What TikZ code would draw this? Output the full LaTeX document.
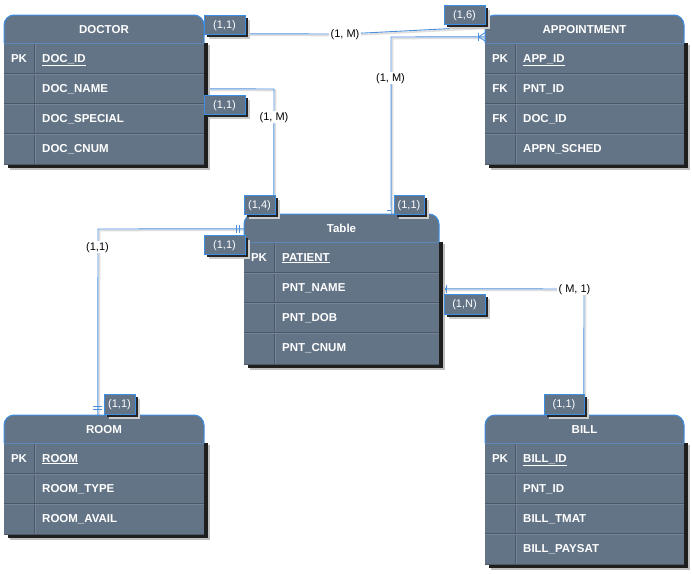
\documentclass[tikz,border=0pt]{standalone}
\usepackage{fontspec}
\setmainfont{Liberation Sans}
\usetikzlibrary{fit,calc}
\pgfdeclarelayer{background}
\pgfdeclarelayer{paper}
\pgfsetlayers{paper,background,main}
\definecolor{tfill}{HTML}{637487}
\definecolor{tdark}{HTML}{4B5867}
\definecolor{tlight}{HTML}{75849A}
\definecolor{eblue}{HTML}{3D8EE6}
\definecolor{lblue}{HTML}{4A8FDB}
\definecolor{hline}{HTML}{5C87B8}
\tikzset{
  card/.style={fill=tfill, draw=eblue, line width=1pt, text=white,
    font=\fontsize{11}{13}\selectfont, inner sep=0pt,
    text height=7.8pt, text depth=0pt},
  conn/.style={draw=lblue, line width=0.9pt},
  rel/.style={fill=white, text=black, inner sep=1.5pt, font=\fontsize{11}{13}\selectfont,
    text height=7.8pt, text depth=1pt},
  ttl/.style={text=white, font=\bfseries\fontsize{11.5}{13}\selectfont,
    text height=8.2pt, text depth=0pt, inner sep=0pt},
  fld/.style={text=white, font=\bfseries\fontsize{11.5}{13}\selectfont, anchor=west,
    inner sep=0pt, text height=8.2pt, text depth=0pt},
  tickln/.style={draw=lblue, line width=0.9pt},
}
\newcommand\ertable[7]{%
  \fill[black!25] (#2+6,#3+30) rectangle (#4+6,#5+6);
  \fill[black!88] (#2+4,#3+28) rectangle (#4+4,#5+4);
  \fill[tfill,rounded corners=10pt] (#2,#3) rectangle (#4,#3+30);
  \fill[tfill] (#2,#3+15) rectangle (#4,#5);
  \draw[eblue,line width=1pt,rounded corners=10pt] (#2,#3+28) -- (#2,#3) -- (#4,#3) -- (#4,#3+28);
  \draw[hline,line width=1pt] (#2,#3+28) -- (#4,#3+28);
  \draw[tdark,line width=1pt] (#2+30,#3+28.5) -- (#2+30,#5);
  \draw[tlight,line width=0.6pt] (#2+31,#3+29) -- (#2+31,#5);
  \node[ttl] at ({(#2+#4)/2},#3+14.5) {#6};
  \foreach \k/\f [count=\i] in {#7} {
    \pgfmathsetmacro\yy{#3+28+30*(\i-1)}
    \ifnum\i>1
      \draw[tdark,line width=1pt] (#2,\yy) -- (#4,\yy);
      \draw[tlight,line width=0.6pt] (#2,\yy+1) -- (#4,\yy+1);
    \fi
    \node[fld, anchor=center] at (#2+15,\yy+15) {\k};
    \node[fld] at (#2+38,\yy+15) {\f};
  }
  \draw[tdark,line width=1pt] (#2,#5) -- (#4,#5);
  \node[fit={(#2,#3) (#4,#5)}, inner sep=0pt] (#1) {};
}
% card: name, x1, y1, x2, y2, text
\newcommand\card[6]{%
  \fill[black!20] (#2+5,#3+5) rectangle (#4+5,#5+5);
  \fill[black!85] (#2+3,#3+3) rectangle (#4+3,#5+3);
  \node[card, minimum width={(#4-#2)*1pt}, minimum height={(#5-#3)*1pt}]
    (#1) at ({(#2+#4)/2},{(#3+#5)/2}) {#6};
}
\newcommand\cpath[1]{%
  \begin{scope}[transform canvas={shift={(1.5pt,-1.5pt)}}]
    \draw[black!13,line width=1.6pt] #1;
  \end{scope}
  \draw[conn] #1;
}
\begin{document}
\begin{tikzpicture}[x=1pt,y=-1pt]
\begin{pgfonlayer}{paper}
\fill[white] (0,0) rectangle (692,573);
\end{pgfonlayer}
\useasboundingbox (0,0) rectangle (692,573);

% tables
\ertable{doctor}{4}{15}{204}{164}{DOCTOR}{PK/\underline{DOC\_ID}, {}/DOC\_NAME, {}/DOC\_SPECIAL, {}/DOC\_CNUM}
\ertable{appointment}{485}{15}{684}{164}{APPOINTMENT}{PK/\underline{APP\_ID}, FK/PNT\_ID, FK/DOC\_ID, {}/APPN\_SCHED}
\ertable{patient}{244}{214}{439}{364}{Table}{PK/\underline{PATIENT}, {}/PNT\_NAME, {}/PNT\_DOB, {}/PNT\_CNUM}
\ertable{room}{4}{415}{204}{534}{ROOM}{PK/\underline{ROOM}, {}/ROOM\_TYPE, {}/ROOM\_AVAIL}
\ertable{bill}{485}{415}{684}{564}{BILL}{PK/\underline{BILL\_ID}, {}/PNT\_ID, {}/BILL\_TMAT, {}/BILL\_PAYSAT}

% connector end points and bends
\coordinate (d1) at ($(doctor.north east)+(0,19)$);
\coordinate (a1) at ($(appointment.north west)+(0,12)$);
\coordinate (m1) at (345,34);
\coordinate (d2) at ($(doctor.north east)+(0,74)$);
\coordinate (b2) at (274,89);
\coordinate (p2) at ($(patient.north west)+(30,0)$);
\coordinate (a3) at ($(appointment.north west)+(0,22)$);
\coordinate (b3) at (391,37);
\coordinate (p3) at ($(patient.north east)+(-48,0)$);
\coordinate (p4) at ($(patient.north west)+(0,15)$);
\coordinate (b4) at (98,229);
\coordinate (r4) at ($(room.north west)+(94,0)$);
\coordinate (p5) at ($(patient.north east)+(0,75)$);
\coordinate (b5) at (584,289);
\coordinate (q5) at ($(bill.north west)+(99,0)$);

\begin{pgfonlayer}{background}
\cpath{(d1) -- (m1) -- (a1)}
\cpath{(d2) -- (b2) -- (p2)}
\cpath{(a3) -- (b3) -- (p3)}
\cpath{(p4) -- (b4) -- (r4)}
\cpath{(p5) -- (b5) -- (q5)}
% end marks
\draw[tickln] ($(d2)+(4,-3)$) -- ($(d2)+(4,0)$);
\draw[tickln] ($(p2)+(0,-9)$) -- ($(p2)+(4,-9)$);
\draw[tickln] ($(p3)+(-4,-3)$) -- ($(p3)+(0,-3)$);
\draw[tickln] ($(a3)+(-6,-4)$) -- ($(a3)+(-6,4)$);
\draw[tickln] ($(a3)+(-6,0)$) -- ($(a3)+(0,-4)$);
\draw[tickln] ($(a3)+(-6,0)$) -- ($(a3)+(0,4)$);
\draw[tickln] ($(p4)+(-7,-4)$) -- ($(p4)+(-7,4)$);
\draw[tickln] ($(p4)+(-4,-4)$) -- ($(p4)+(-4,4)$);
\draw[tickln] ($(r4)+(-5,-8)$) -- ($(r4)+(4,-8)$);
\draw[tickln] ($(r4)+(-5,-5)$) -- ($(r4)+(4,-5)$);
\draw[tickln] ($(p5)+(1,-4)$) -- ($(p5)+(7,0)$);
\draw[tickln] ($(p5)+(1,4)$) -- ($(p5)+(7,0)$);
\draw[tickln] ($(p5)+(7,-4)$) -- ($(p5)+(7,4)$);
\end{pgfonlayer}

% relationship labels
\node[rel] (r1) at (m1) {(1, M)};
\node[rel] (r2) at (274,117) {(1, M)};
\node[rel] (r3) at (390.5,78) {(1, M)};
\node[rel] (r4l) at (97.5,247) {(1,1)};
\node[rel] (r5) at (574.5,289) {( M, 1)};

% cardinality cards
\card{c1}{204}{15}{245}{34}{(1,1)}
\card{c2}{204}{95}{245}{114}{(1,1)}
\card{c3}{444}{5}{485}{24}{(1,6)}
\card{c4}{244}{195}{275}{214}{(1,4)}
\card{c5}{394}{195}{424}{214}{(1,1)}
\card{c6}{204}{235}{245}{254}{(1,1)}
\card{c7}{444}{294}{485}{314}{(1,N)}
\card{c8}{104}{394}{135}{414}{(1,1)}
\card{c9}{544}{394}{584}{414}{(1,1)}
\end{tikzpicture}
\end{document}
